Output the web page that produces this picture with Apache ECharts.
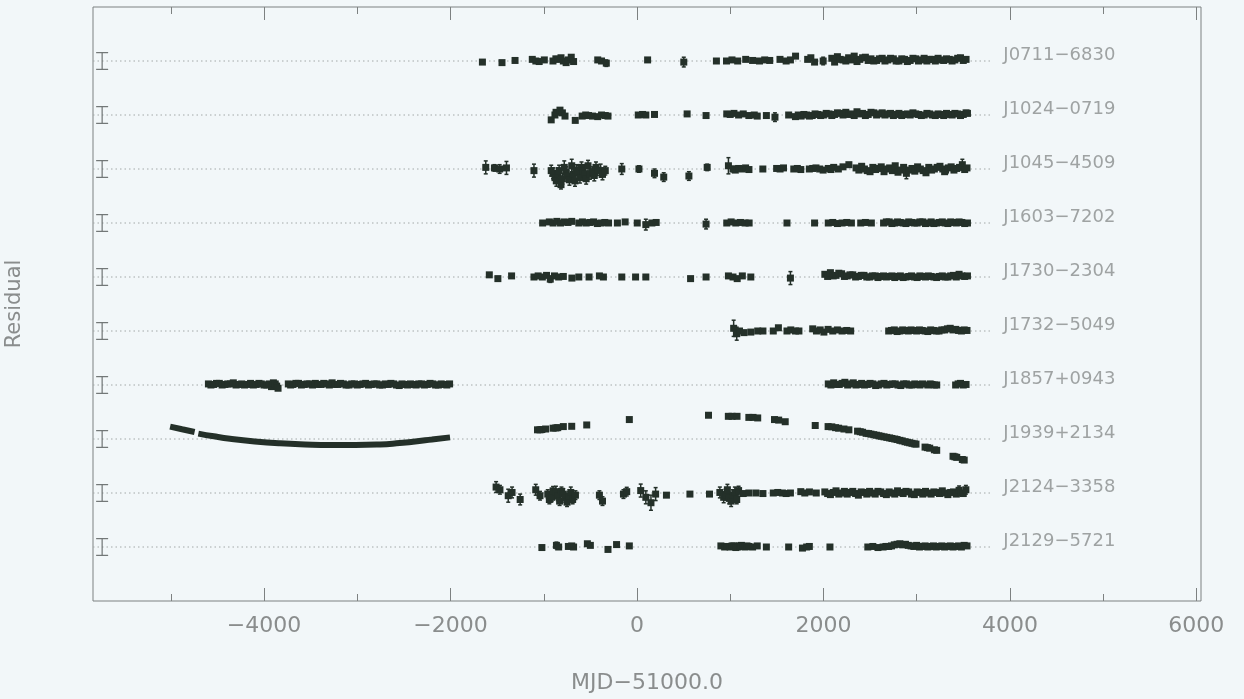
<!DOCTYPE html>
<html>
<head>
<meta charset="utf-8">
<script src="https://cdn.jsdelivr.net/npm/echarts@6/dist/echarts.min.js"></script>
<style>
  html, body { margin: 0; padding: 0; background: #f2f7f9; }
  #chart { width: 1244px; height: 699px; }
</style>
</head>
<body>
<div id="chart"></div>
<script>
// pulsar names, top to bottom, and the offset of each row on the y axis
const pulsars = ['J0711\u22126830', 'J1024\u22120719', 'J1045\u22124509', 'J1603\u22127202', 'J1730\u22122304',
  'J1732\u22125049', 'J1857+0943', 'J1939+2134', 'J2124\u22123358', 'J2129\u22125721']
const rowOffsets = [100, 90, 80, 70, 60, 50, 40, 30, 20, 10]

const xMajorTicks = [-4000, -2000, 0, 2000, 4000, 6000]
const xMinorTicks = [-5000, -3000, -1000, 1000, 3000, 5000]

// scale bar drawn at the left of every row (half height, residual units)
const scaleBarHalf = 1.55

// residuals: [MJD-51000, residual, error bar (optional)]
const j0711 = [
  [-1658, -0.2], [-1448, -0.3], [-1308, 0.1], [-1123, 0.3], [-1085, 0], [-1049, -0.1], [-994, 0.2],
  [-901, 0], [-870, 0.4], [-847, 0.3], [-815, 0.6], [-790, 0], [-760, -0.3], [-736, 0.2], [-705, 0.7], [-680, -0.1],
  [-421, 0.2], [-380, 0], [-329, -0.4, 0.6],
  [114, 0.2], [502, -0.2, 0.9], [852, 0],
  [960, 0], [1019, 0.2], [1080, 0], [1166, 0.3], [1240, 0.1], [1314, 0], [1370, 0.2], [1424, 0.1], [1534, 0.3],
  [1600, 0], [1646, 0.2], [1701, 0.9], [1831, 0.3], [1865, 0.6], [1905, -0.2], [1997, 0, 0.7],
  [2090, 0.5], [2120, -0.2], [2150, 0.8], [2180, 0.3], [2210, 0.2], [2240, 0], [2270, 0.6], [2300, 0.2],
  [2330, 0.9], [2360, -0.1], [2390, 0.3], [2420, 0.6], [2450, 0.7], [2480, 0.1], [2510, 0.4], [2540, 0],
  [2570, 0.1], [2600, 0.4], [2630, 0.5], [2660, 0], [2690, 0.2], [2720, 0.5], [2750, 0.4], [2780, 0],
  [2810, 0], [2840, 0.4], [2870, 0.3], [2900, -0.1], [2930, 0.1], [2960, 0.5], [2990, 0.4], [3020, 0],
  [3050, 0.2], [3080, 0.5], [3110, 0], [3140, 0.3], [3170, 0.3], [3200, 0], [3230, 0.5], [3260, 0.2],
  [3290, 0.1], [3320, 0.4], [3350, 0.3], [3380, 0], [3410, 0.2], [3440, 0.5], [3470, 0.6], [3500, 0.1], [3530, 0.3]
]
const j1024 = [
  [-920, -0.9], [-880, 0], [-868, 0.5], [-826, 0.9], [-800, 0.4], [-772, -0.2], [-662, -1.0],
  [-588, -0.2], [-550, 0], [-520, -0.1], [-477, -0.2], [-421, -0.3], [-380, 0], [-340, -0.1], [-311, -0.2],
  [14, 0], [60, 0.1], [95, 0], [188, 0.1], [538, 0.2], [741, -0.1],
  [963, 0.2], [1000, 0.1], [1040, 0.3], [1090, 0], [1140, 0.2], [1200, -0.1], [1258, 0], [1290, -0.2],
  [1388, -0.1], [1480, -0.4, 0.8], [1627, 0],
  [1700, -0.3], [1730, 0], [1760, -0.2], [1790, 0.1], [1820, 0], [1850, -0.2], [1880, -0.1], [1910, 0.2],
  [1940, 0.1], [1970, -0.1], [2000, 0], [2030, 0.3], [2060, 0.2], [2090, -0.1], [2120, 0.1], [2150, 0.4],
  [2180, 0.3], [2210, 0], [2240, 0.5], [2270, 0.1], [2300, 0.2], [2330, -0.1], [2360, 0.6], [2390, 0.2],
  [2420, 0.3], [2450, -0.1], [2480, 0.1], [2510, 0.5], [2540, 0.4], [2570, 0], [2600, 0.2], [2630, 0.4],
  [2660, 0], [2690, 0.2], [2720, 0.3], [2750, -0.1], [2780, 0.1], [2810, 0.3], [2840, -0.1], [2870, 0.1],
  [2900, 0.2], [2930, 0], [2960, 0.4], [2990, 0.2], [3020, 0.1], [3050, -0.1], [3080, 0], [3110, 0.3],
  [3140, 0.2], [3170, 0], [3200, -0.1], [3230, 0.2], [3260, 0.1], [3290, -0.1], [3320, 0.3], [3350, 0.1],
  [3380, 0], [3410, 0.3], [3440, 0.2], [3470, -0.1], [3500, 0.1], [3530, 0.4], [3545, 0.3]
]
const j1045 = [
  [-1622, 0.3, 1.2], [-1529, 0.2, 0.6], [-1473, 0, 0.8], [-1400, 0.2, 1.2], [-1105, -0.3, 1.2],
  [-920, -0.3, 1], [-900, -0.8, 1], [-880, -1.6, 1], [-865, -2.2, 1], [-850, -1.0, 1.2], [-835, -0.3, 1],
  [-815, -2.9, 0.8], [-800, -1.8, 1], [-780, 0.3, 1.2], [-760, -0.6, 1], [-745, -1.3, 1], [-725, -2.0, 1],
  [-700, 0.6, 1.2], [-685, -1.0, 1], [-665, -2.2, 1], [-650, -0.2, 1], [-630, -0.6, 1.2], [-612, -1.6, 1],
  [-595, 0.3, 1], [-578, -0.4, 1], [-560, -1.0, 1.2], [-545, -1.8, 1], [-525, 0.6, 1], [-505, -0.9, 1],
  [-475, -0.6, 1], [-458, -1.2, 1], [-440, 0.3, 1], [-420, -0.2, 1], [-390, -0.3, 1.2], [-370, -1.0, 1],
  [-340, -0.3, 0.8],
  [-163, 0, 1], [21, 0, 0.6], [188, -0.8, 0.8], [287, -1.5, 0.8], [557, -1.3, 0.8], [753, 0.3, 0.6],
  [981, 0.6, 1.5], [1030, 0, 0.5], [1055, -0.2], [1090, 0.1], [1130, 0], [1165, 0.2], [1201, -0.1], [1350, 0],
  [1498, 0.1], [1535, 0], [1572, 0.2], [1682, 0], [1720, 0.1], [1757, -0.1], [1849, 0], [1885, 0.1],
  [1920, 0.2], [1960, 0], [1997, -0.2], [2052, 0.1], [2080, -0.1], [2110, 0.3], [2160, 0], [2210, 0.4], [2273, 0.8],
  [2350, 0.2], [2380, -0.2], [2410, 0.5], [2440, 0], [2470, -0.3], [2500, -0.5], [2530, 0.3], [2560, -0.1],
  [2590, 0.1], [2620, 0.4], [2650, -0.5], [2680, 0], [2710, 0.2], [2740, -0.3], [2770, 0.6], [2800, -0.6],
  [2830, -0.2], [2860, 0.3], [2890, -0.8, 1.0], [2920, -0.2], [2950, 0.1], [2980, -0.4], [3010, 0.4],
  [3040, 0], [3070, -0.3], [3100, -0.7], [3130, 0.3], [3160, -0.2], [3190, 0], [3220, 0.3], [3250, 0.5],
  [3280, 0], [3300, -0.5], [3310, -0.2], [3340, 0.2], [3370, 0.4], [3400, -0.2], [3430, 0.1], [3460, 0.3],
  [3490, 0.8, 1.0], [3515, -0.1], [3540, 0.2]
]
const j1603 = [
  [-1012, 0], [-940, 0.2], [-900, 0], [-860, 0.3], [-820, 0], [-780, 0.2], [-740, 0.1], [-700, 0.3],
  [-624, 0], [-585, 0.2], [-545, 0], [-505, 0.1], [-465, 0.2], [-425, -0.1], [-385, 0], [-345, 0.1], [-305, 0],
  [-210, 0], [-127, 0.2], [3, 0], [95, -0.3, 1], [160, 0], [206, 0.1],
  [741, -0.2, 0.9], [963, 0], [1010, 0.2], [1060, 0], [1110, 0.1], [1160, 0], [1203, 0], [1609, 0], [1905, 0],
  [2052, 0], [2100, 0.1], [2150, -0.1], [2200, 0], [2250, 0.1], [2300, 0], [2400, 0], [2450, 0.1], [2514, 0],
  [2645, 0], [2675, 0.2], [2705, 0.2], [2735, -0.1], [2765, 0], [2795, 0.2], [2825, 0.1], [2855, 0],
  [2885, -0.1], [2915, 0.2], [2945, 0.1], [2975, 0], [3005, 0], [3035, 0.2], [3065, 0.2], [3095, -0.1],
  [3125, 0], [3155, 0.2], [3185, -0.1], [3215, 0], [3245, 0.1], [3275, 0.2], [3305, 0], [3335, -0.1],
  [3365, 0.2], [3395, 0.1], [3425, 0], [3455, 0.2], [3485, 0.1], [3515, -0.1], [3545, 0]
]
const j1730 = [
  [-1584, 0.4], [-1492, -0.3], [-1345, 0.2], [-1105, 0], [-1060, 0.2], [-1015, 0], [-970, 0.3], [-930, -0.4, 0.6],
  [-885, 0.2], [-840, 0], [-790, 0.1], [-698, -0.2], [-624, 0], [-514, 0], [-403, 0.2], [-360, 0],
  [-163, 0], [-15, 0], [95, 0], [575, -0.3], [741, 0], [981, 0.2], [1030, 0], [1075, -0.3], [1130, 0.2],
  [1221, 0], [1646, -0.2, 1.2],
  [2015, 0.5], [2045, 0.1], [2075, 0.8], [2105, 0.2], [2135, 0.3], [2165, 0.7], [2195, 0.6], [2225, 0.1],
  [2255, 0.2], [2285, 0.4], [2315, 0.4], [2345, 0], [2375, 0.1], [2405, 0.3], [2435, 0.3], [2465, 0],
  [2495, 0], [2525, 0.2], [2555, 0.2], [2585, -0.1], [2615, 0.1], [2645, 0.2], [2675, 0], [2705, 0.1],
  [2735, 0.2], [2765, -0.1], [2795, 0.1], [2825, 0.2], [2855, -0.1], [2885, 0], [2915, 0.1], [2945, 0.2],
  [2975, 0], [3005, -0.1], [3035, 0.2], [3065, 0.1], [3095, 0], [3125, 0.2], [3155, 0.1], [3185, 0],
  [3215, -0.1], [3245, 0.1], [3275, 0.2], [3305, 0], [3335, 0], [3365, 0.2], [3395, 0.3], [3425, 0],
  [3455, 0.5], [3485, 0.2], [3515, 0.1], [3545, 0.2]
]
const j1732 = [
  [1037, 0.5, 1.5], [1070, -0.5, 1.2], [1100, 0], [1148, -0.3], [1221, -0.2], [1295, 0], [1351, 0], [1462, 0],
  [1517, 0.6], [1609, 0], [1650, 0.2], [1700, 0], [1737, 0], [1885, 0.4], [1925, 0], [1965, 0.2], [2005, -0.2],
  [2050, 0.3], [2100, 0], [2150, 0.2], [2200, 0], [2250, 0.1], [2292, 0],
  [2700, 0], [2730, 0.1], [2760, 0.2], [2790, -0.1], [2820, 0], [2850, 0.2], [2880, 0.1], [2910, 0],
  [2940, 0.2], [2970, 0.1], [3000, 0], [3030, 0.2], [3060, 0.1], [3090, 0], [3120, -0.1], [3150, 0.2],
  [3180, 0.1], [3210, 0], [3240, 0], [3270, 0.2], [3300, 0.2], [3330, 0.4], [3360, 0.5], [3390, 0.2],
  [3420, 0.3], [3450, 0.1], [3480, 0], [3510, 0.2], [3540, 0.1]
]
const j1857 = [
  [-4597, 0.2], [-4570, 0], [-4540, 0.1], [-4510, 0.3], [-4480, 0.3], [-4450, 0], [-4420, 0.1], [-4390, 0.2],
  [-4360, 0.2], [-4330, 0.4], [-4300, 0], [-4270, 0.1], [-4240, 0.2], [-4210, 0], [-4180, 0.1],
  [-4145, 0.3], [-4115, 0], [-4085, 0.1], [-4055, 0.3], [-4030, 0.2], [-4000, 0], [-3970, 0], [-3945, 0.2],
  [-3920, -0.3], [-3900, 0.4], [-3880, 0.2], [-3865, -0.2], [-3850, -0.6],
  [-3740, 0.2], [-3715, 0], [-3690, 0.1], [-3660, 0.3], [-3630, 0.3], [-3600, 0], [-3570, 0.1], [-3540, 0.2],
  [-3510, 0.2], [-3480, 0], [-3450, 0.3], [-3420, 0.1], [-3390, 0.1], [-3360, 0.3], [-3330, 0.2], [-3300, 0],
  [-3270, 0.4], [-3240, 0.1], [-3210, 0.1], [-3180, 0.3], [-3150, 0.2], [-3120, 0], [-3090, 0], [-3060, 0.2],
  [-3030, 0.2], [-3000, 0], [-2970, 0.1], [-2940, 0.2], [-2910, 0.3], [-2880, 0], [-2850, 0.1], [-2820, 0.2],
  [-2790, 0.2], [-2760, 0], [-2730, 0], [-2700, 0.2], [-2670, 0.1], [-2640, 0.3], [-2610, 0.2], [-2580, 0],
  [-2550, -0.1], [-2520, 0.2], [-2490, 0.1], [-2460, 0], [-2430, 0.2], [-2400, 0.1], [-2370, 0], [-2340, 0.2],
  [-2310, 0.2], [-2280, 0], [-2250, 0.1], [-2220, 0.3], [-2190, 0.2], [-2160, 0], [-2130, 0], [-2100, 0.2],
  [-2070, 0.1], [-2040, 0], [-2010, 0.2],
  [2052, 0.2], [2080, 0], [2110, 0.4], [2140, 0.1], [2170, 0.1], [2200, 0.3], [2230, 0.5], [2260, 0],
  [2290, 0.2], [2320, 0.4], [2350, 0], [2380, 0.1], [2410, 0.3], [2440, 0], [2470, 0.1], [2500, 0.3],
  [2530, 0.2], [2560, -0.1], [2590, 0], [2620, 0.2], [2650, 0.3], [2680, 0], [2710, 0.1], [2740, 0.2],
  [2770, 0.2], [2800, 0], [2830, -0.1], [2860, 0.2], [2890, 0.2], [2920, 0], [2950, 0], [2980, 0.2],
  [3010, 0.1], [3035, 0], [3063, 0.2], [3120, 0], [3145, 0.2], [3165, 0.1], [3190, 0], [3215, 0],
  [3418, 0], [3445, 0.2], [3470, 0.3], [3500, 0], [3530, 0.1]
]
// J1939+2134: early data is a continuous curve (two pieces), later data are points
const j1939CurveA = [[-5008, 2.3], [-4880, 1.8], [-4745, 1.3]]
const j1939CurveB = [
  [-4705, 1.0], [-4540, 0.5], [-4365, 0.05], [-4100, -0.45], [-3829, -0.8], [-3560, -1.0], [-3292, -1.1],
  [-3020, -1.1], [-2756, -1.0], [-2580, -0.8], [-2402, -0.5], [-2200, -0.1], [-2005, 0.3]
]
const j1939 = [
  [-1067, 1.7], [-1040, 1.7], [-1020, 1.75], [-980, 1.85], [-900, 2.0], [-870, 2.05], [-850, 2.1], [-790, 2.3],
  [-700, 2.35], [-539, 2.6],
  [-82, 3.6], [767, 4.4], [980, 4.2], [1020, 4.2], [1073, 4.2], [1200, 4.0], [1245, 4.0], [1295, 3.9],
  [1475, 3.6], [1520, 3.5], [1590, 3.2], [1912, 2.5], [2050, 2.3], [2090, 2.25], [2130, 2.1], [2163, 2.0],
  [2220, 1.85], [2273, 1.7], [2366, 1.45], [2395, 1.35], [2420, 1.25], [2458, 1.05], [2485, 1.0], [2510, 0.9],
  [2540, 0.8], [2568, 0.7], [2595, 0.6], [2620, 0.5], [2650, 0.4], [2680, 0.3], [2710, 0.2], [2735, 0.1],
  [2765, 0], [2790, -0.1], [2820, -0.25], [2845, -0.35], [2875, -0.5], [2901, -0.6], [2925, -0.7], [2950, -0.8],
  [2975, -0.9], [2993, -0.95], [3090, -1.5], [3115, -1.6], [3140, -1.7], [3190, -2.0], [3215, -2.1],
  [3390, -3.2], [3410, -3.3], [3430, -3.4], [3490, -3.8], [3510, -3.9]
]
const j2124 = [
  [-1511, 1.1, 1.0], [-1470, 0.6, 0.8], [-1381, -0.5, 1.2], [-1340, 0.1, 1.0], [-1253, -1.2, 1.0],
  [-1086, 0.6, 1.0], [-1040, -0.5, 0.8], [-957, -0.2, 0.8], [-940, -1.2, 0.8], [-915, -0.8, 0.8],
  [-900, 0.4, 0.8], [-870, 0.25, 1], [-850, -0.6, 0.8], [-830, -1.5, 0.8], [-810, 0.3, 0.8], [-790, -0.2, 1],
  [-770, -0.9, 0.8], [-750, -1.7, 0.8], [-730, -0.6, 0.8], [-710, 0.1, 1], [-690, -1.2, 0.8], [-660, -0.4, 0.8],
  [-403, -0.4, 0.8], [-370, -1.5, 0.8], [-145, -0.2, 0.8], [-110, 0.25, 0.8], [40, 0.45, 1.2],
  [95, -0.8, 1.2], [150, -1.8, 1.4], [200, -0.2, 1.2], [316, -0.4], [568, -0.2], [778, -0.2],
  [889, 0.1, 1], [930, -0.8, 1], [950, -0.3, 1], [970, 0.6, 1], [990, -1.0, 1], [1010, -1.5, 1],
  [1030, -0.4, 1], [1050, 0.1, 1], [1070, -1.2, 0.8], [1090, 0.45, 0.8],
  [1140, -0.1], [1200, 0], [1276, 0], [1351, -0.1], [1462, 0], [1510, 0.1], [1560, 0], [1600, -0.1],
  [1646, 0], [1757, 0.25], [1800, 0], [1850, 0.2], [1923, 0],
  [2015, 0.2], [2045, -0.1], [2075, -0.3], [2105, 0.1], [2135, 0.4], [2165, -0.2], [2195, 0], [2225, 0.3],
  [2255, -0.2], [2285, 0.1], [2315, 0.3], [2345, -0.1], [2375, -0.4], [2405, 0.2], [2435, 0.1], [2465, -0.2],
  [2495, 0.3], [2525, 0], [2555, -0.2], [2585, 0.3], [2615, 0.2], [2645, -0.1], [2675, -0.3], [2705, 0.2],
  [2735, 0], [2765, -0.2], [2795, 0.4], [2825, 0.1], [2855, -0.1], [2885, 0.3], [2915, 0.2], [2945, -0.2],
  [2975, -0.3], [3005, 0.2], [3035, 0.1], [3065, -0.2], [3095, 0.3], [3125, 0], [3155, -0.2], [3185, 0.2],
  [3215, 0.1], [3245, -0.1], [3275, 0.4], [3305, 0], [3335, -0.3], [3365, 0.1], [3395, 0.2], [3425, -0.2],
  [3455, 0.5, 0.8], [3480, 0], [3500, -0.1], [3528, 0.6, 0.8]
]
const j2129 = [
  [-1020, -0.1], [-864, 0.3, 0.6], [-840, 0], [-736, 0.1], [-700, 0.2], [-680, 0], [-532, 0.6], [-500, 0.3],
  [-311, -0.45], [-219, 0.45], [-82, 0.2],
  [900, 0.2], [940, 0], [970, 0.1], [999, 0], [1020, 0.2], [1040, 0.2], [1060, -0.1], [1080, 0], [1100, 0.2],
  [1120, 0.3], [1140, 0.1], [1160, 0], [1180, 0.2], [1200, 0.1], [1240, 0], [1290, 0.2],
  [1388, 0], [1627, 0], [1775, -0.2], [1820, 0], [1849, 0.1], [2070, 0],
  [2476, 0], [2530, 0.1], [2585, -0.1],
  [2640, 0], [2670, 0.1], [2700, 0.1], [2730, 0.2], [2760, 0.4], [2790, 0.5], [2820, 0.6], [2850, 0.4],
  [2880, 0.5], [2910, 0.3], [2940, 0.2], [2970, 0.1], [3000, 0.3], [3030, 0], [3060, 0.1], [3090, 0.2],
  [3120, 0], [3150, 0.1], [3180, 0.2], [3210, 0], [3240, 0.1], [3270, 0.2], [3300, 0], [3330, 0.1],
  [3360, 0.2], [3390, 0], [3420, 0.1], [3450, 0.2], [3480, 0], [3510, 0.3], [3540, 0.2]
]
const residuals = [j0711, j1024, j1045, j1603, j1730, j1732, j1857, j1939, j2124, j2129]

const xMin = -5835
const xMax = 6050
const barX = -5737
const lineEnd = 3800
const labelX = 3930

const ink = '#243029'
const grey = '#8a8d8d'
const minus = v => String(v).replace('-', '\u2212')

const chart = echarts.init(document.getElementById('chart'))

const series = []

// dotted baseline of each pulsar
series.push({
  type: 'custom',
  silent: true,
  data: rowOffsets.map(r => [xMin, r]),
  renderItem(params, api) {
    const a = api.coord([xMin, api.value(1)])
    const b = api.coord([lineEnd, api.value(1)])
    return {
      type: 'line',
      shape: { x1: a[0], y1: a[1], x2: b[0], y2: b[1] },
      style: { stroke: '#a3a8a8', lineWidth: 1, lineDash: [1.5, 3] }
    }
  }
})

// scale bars
series.push({
  type: 'custom',
  silent: true,
  data: rowOffsets.map(r => [barX, r - scaleBarHalf, r + scaleBarHalf]),
  renderItem(params, api) {
    const lo = api.coord([api.value(0), api.value(1)])
    const hi = api.coord([api.value(0), api.value(2)])
    const w = 6
    const st = { stroke: '#6f7474', lineWidth: 1.2 }
    return {
      type: 'group',
      children: [
        { type: 'line', shape: { x1: lo[0], y1: lo[1], x2: hi[0], y2: hi[1] }, style: st },
        { type: 'line', shape: { x1: lo[0] - w, y1: lo[1], x2: lo[0] + w, y2: lo[1] }, style: st },
        { type: 'line', shape: { x1: hi[0] - w, y1: hi[1], x2: hi[0] + w, y2: hi[1] }, style: st }
      ]
    }
  }
})

// residual points and their error bars
residuals.forEach((rows, i) => {
  const off = rowOffsets[i]
  series.push({
    type: 'scatter',
    name: pulsars[i],
    symbol: 'rect',
    symbolSize: [7, 7],
    itemStyle: { color: ink, opacity: 1 },
    data: rows.map(d => [d[0], off + d[1]])
  })
  const errs = rows.filter(d => d[2])
  if (errs.length) {
    series.push({
      type: 'custom',
      data: errs.map(d => [d[0], off + d[1] - d[2], off + d[1] + d[2]]),
      renderItem(params, api) {
        const lo = api.coord([api.value(0), api.value(1)])
        const hi = api.coord([api.value(0), api.value(2)])
        const st = { stroke: ink, lineWidth: 1.5 }
        return {
          type: 'group',
          children: [
            { type: 'line', shape: { x1: lo[0], y1: lo[1], x2: hi[0], y2: hi[1] }, style: st },
            { type: 'line', shape: { x1: lo[0] - 2, y1: lo[1], x2: lo[0] + 2, y2: lo[1] }, style: st },
            { type: 'line', shape: { x1: hi[0] - 2, y1: hi[1], x2: hi[0] + 2, y2: hi[1] }, style: st }
          ]
        }
      }
    })
  }
})

// J1939+2134 early curve
;[j1939CurveA, j1939CurveB].forEach(seg => {
  series.push({
    type: 'line',
    smooth: true,
    symbol: 'none',
    lineStyle: { color: ink, width: 6 },
    data: seg.map(d => [d[0], rowOffsets[7] + d[1]])
  })
})

// pulsar names
series.push({
  type: 'scatter',
  symbolSize: 0,
  silent: true,
  data: rowOffsets.map(r => [labelX, r]),
  label: {
    show: true,
    position: 'right',
    distance: 0,
    offset: [0, -6],
    formatter: p => pulsars[p.dataIndex],
    color: grey,
    fontSize: 18,
    fontFamily: 'DejaVu Sans'
  }
})

const tickStyle = { color: '#7d8181', width: 1 }
const hiddenAxis = {
  type: 'value', min: xMin, max: xMax,
  axisLine: { show: false }, axisLabel: { show: false }, splitLine: { show: false }
}

chart.setOption({
  backgroundColor: '#f2f7f9',
  animation: false,
  grid: {
    left: 93, right: 43, top: 7, bottom: 98,
    outerBoundsMode: 'none',
    containLabel: false,
    show: true, borderColor: '#7d8181', borderWidth: 1
  },
  xAxis: [
    {
      type: 'value', min: xMin, max: xMax, position: 'bottom',
      axisLine: { show: false },
      splitLine: { show: false },
      axisTick: { inside: true, length: 13, customValues: xMajorTicks, lineStyle: tickStyle },
      axisLabel: {
        customValues: xMajorTicks, formatter: minus, margin: 14,
        color: grey, fontSize: 22, fontFamily: 'DejaVu Sans'
      },
      name: 'MJD\u221251000.0', nameLocation: 'middle', nameGap: 71,
      nameTextStyle: { color: grey, fontSize: 22, fontFamily: 'DejaVu Sans' }
    },
    Object.assign({}, hiddenAxis, { position: 'bottom',
      axisTick: { inside: true, length: 7, customValues: xMinorTicks, lineStyle: tickStyle } }),
    Object.assign({}, hiddenAxis, { position: 'top',
      axisTick: { inside: true, length: 13, customValues: xMajorTicks, lineStyle: tickStyle } }),
    Object.assign({}, hiddenAxis, { position: 'top',
      axisTick: { inside: true, length: 7, customValues: xMinorTicks, lineStyle: tickStyle } })
  ],
  yAxis: {
    type: 'value', min: 0, max: 110,
    axisLine: { show: false }, axisTick: { show: false }, axisLabel: { show: false }, splitLine: { show: false },
    name: 'Residual', nameLocation: 'middle', nameGap: 68, nameRotate: 90,
    nameTextStyle: { color: grey, fontSize: 21, fontFamily: 'DejaVu Sans' }
  },
  series
})
</script>
</body>
</html>
